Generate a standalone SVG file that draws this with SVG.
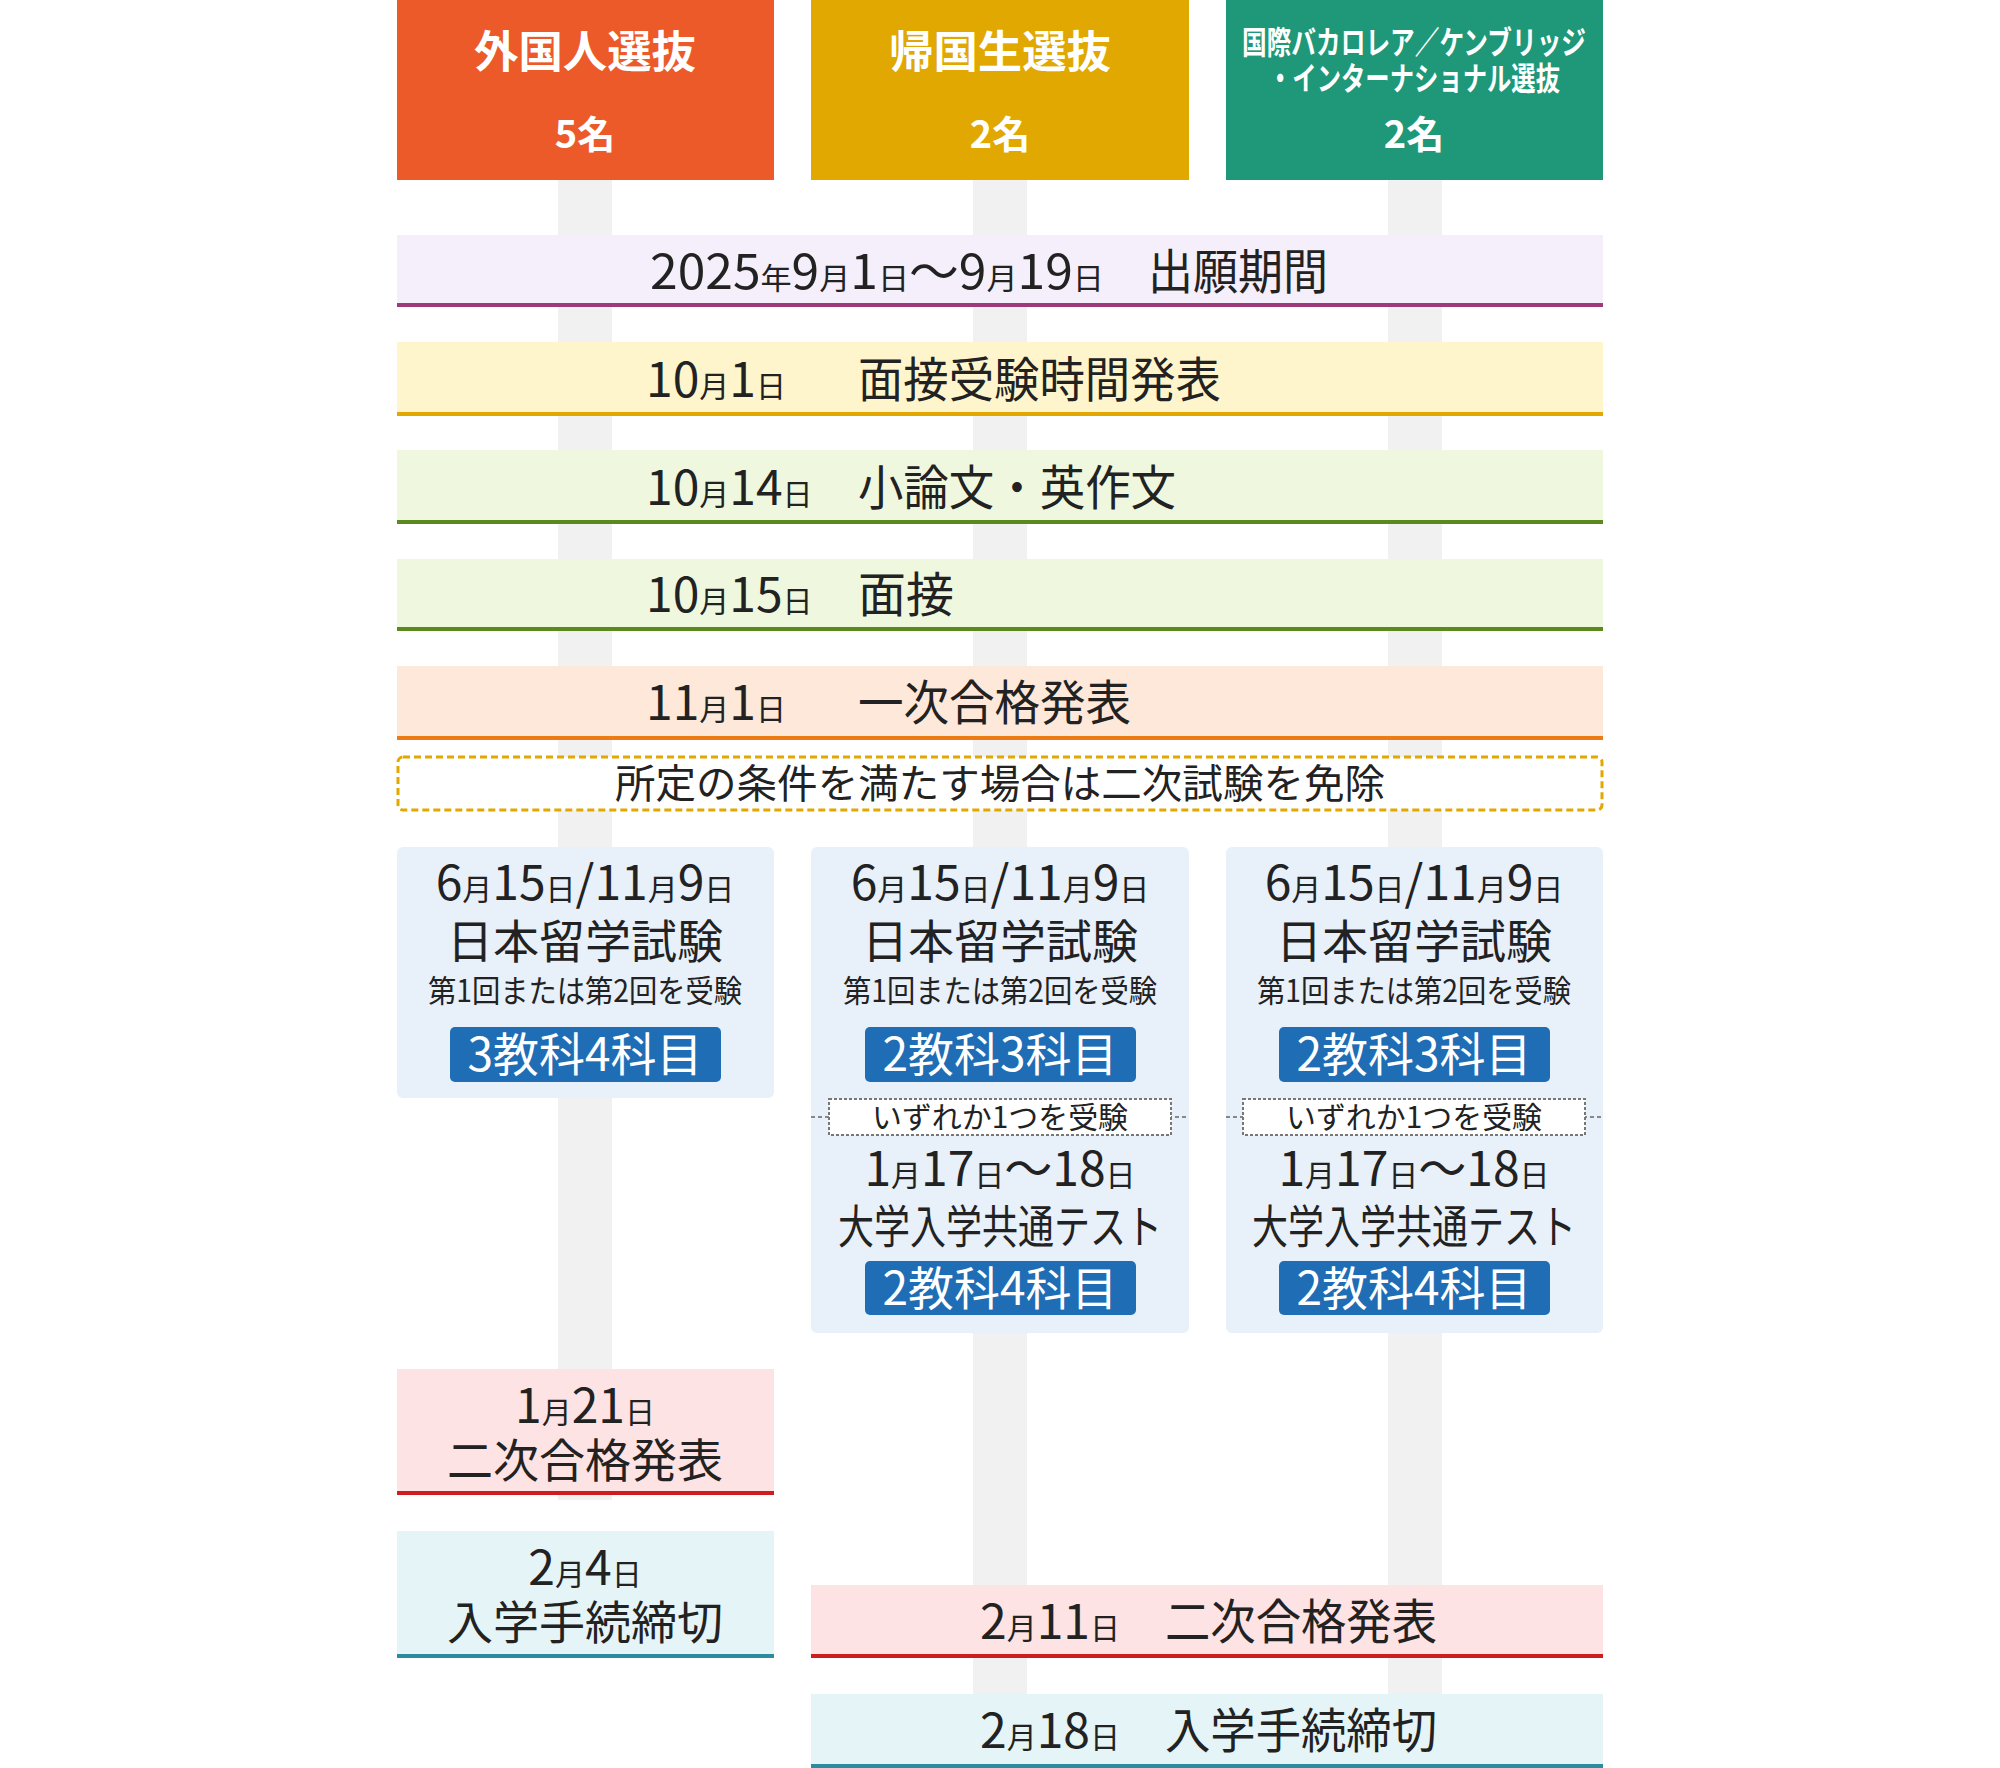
<svg xmlns="http://www.w3.org/2000/svg" width="2000" height="1768" viewBox="0 0 2000 1768">
<style>
text{font-family:"Noto Sans CJK JP","Noto Sans",sans-serif;fill:#222}
.h{fill:#fff;font-weight:700;text-anchor:middle}
.r{font-size:48px}
.s{font-size:30px}
.c{text-anchor:middle}
.b{fill:#fff;text-anchor:middle;font-size:46px}
.bar{fill:#f1f1f1}
.badge{fill:#1f6db5}
.card{fill:#e8f0fa}
</style>
<rect width="2000" height="1768" fill="#fff"/>
<g id="bars">
<rect class="bar" x="558" y="180" width="54" height="1320"/>
<rect class="bar" x="973" y="180" width="54" height="1588"/>
<rect class="bar" x="1388" y="180" width="54" height="1588"/>
</g>
<g id="h1"><rect x="397" y="0" width="377" height="180" fill="#ec5a2a"/>
<text class="h" x="585" y="68" font-size="44" textLength="222" lengthAdjust="spacingAndGlyphs">外国人選抜</text><text class="h" x="585" y="148" font-size="38">5名</text></g>
<g id="h2"><rect x="811" y="0" width="378" height="180" fill="#e0a800"/>
<text class="h" x="1000" y="68" font-size="44" textLength="222" lengthAdjust="spacingAndGlyphs">帰国生選抜</text><text class="h" x="1000" y="148" font-size="38">2名</text></g>
<g id="h3"><rect x="1226" y="0" width="377" height="180" fill="#1e9878"/>
<text class="h" x="1414" y="54" font-size="32" textLength="344" lengthAdjust="spacingAndGlyphs">国際バカロレア／ケンブリッジ</text>
<text class="h" x="1414" y="90" font-size="32" textLength="292" lengthAdjust="spacingAndGlyphs">・インターナショナル選抜</text>
<text class="h" x="1414" y="148" font-size="38">2名</text></g>
<g id="row1"><rect x="397" y="235" width="1206" height="72" fill="#f5eefb"/><rect x="397" y="303" width="1206" height="4" fill="#9c3a7a"/>
<text class="r" x="650" y="289" textLength="454" lengthAdjust="spacingAndGlyphs">2025<tspan class="s">年</tspan>9<tspan class="s">月</tspan>1<tspan class="s">日</tspan>〜9<tspan class="s">月</tspan>19<tspan class="s">日</tspan></text><text class="r" x="1148" y="289" textLength="180" lengthAdjust="spacingAndGlyphs">出願期間</text></g>
<g id="row2"><rect x="397" y="342" width="1206" height="74" fill="#fff5cc"/><rect x="397" y="412" width="1206" height="4" fill="#e2a800"/>
<text class="r" x="646" y="397">10<tspan class="s">月</tspan>1<tspan class="s">日</tspan></text><text class="r" x="858" y="397" textLength="363" lengthAdjust="spacingAndGlyphs">面接受験時間発表</text></g>
<g id="row3"><rect x="397" y="450" width="1206" height="74" fill="#eff8df"/><rect x="397" y="520" width="1206" height="4" fill="#5a8a1e"/>
<text class="r" x="646" y="505">10<tspan class="s">月</tspan>14<tspan class="s">日</tspan></text><text class="r" x="858" y="505" textLength="318" lengthAdjust="spacingAndGlyphs">小論文・英作文</text></g>
<g id="row4"><rect x="397" y="559" width="1206" height="72" fill="#eff8df"/><rect x="397" y="627" width="1206" height="4" fill="#5a8a1e"/>
<text class="r" x="646" y="612">10<tspan class="s">月</tspan>15<tspan class="s">日</tspan></text><text class="r" x="858" y="612">面接</text></g>
<g id="row5"><rect x="397" y="666" width="1206" height="74" fill="#fde8da"/><rect x="397" y="736" width="1206" height="4" fill="#ee7a14"/>
<text class="r" x="646" y="720">11<tspan class="s">月</tspan>1<tspan class="s">日</tspan></text><text class="r" x="858" y="720" textLength="273" lengthAdjust="spacingAndGlyphs">一次合格発表</text></g>
<g id="note"><rect x="398" y="757" width="1204" height="53" rx="5" fill="#fff" stroke="#e2a800" stroke-width="3" stroke-dasharray="7 4"/>
<text class="c" x="1000" y="798" font-size="40" fill="#333" textLength="770" lengthAdjust="spacingAndGlyphs">所定の条件を満たす場合は二次試験を免除</text></g>
<g id="card1"><rect class="card" x="397" y="847" width="377" height="251" rx="6"/>
<text class="c" x="585" y="900" font-size="48">6<tspan class="s">月</tspan>15<tspan class="s">日</tspan>/11<tspan class="s">月</tspan>9<tspan class="s">日</tspan></text>
<text class="c" x="585" y="958" font-size="46">日本留学試験</text>
<text class="c" x="585" y="1002" font-size="31" textLength="314" lengthAdjust="spacingAndGlyphs">第1回または第2回を受験</text>
<rect class="badge" x="450" y="1027" width="271" height="55" rx="5"/><text class="b" x="585" y="1071">3教科4科目</text></g>
<g id="card2"><rect class="card" x="811" y="847" width="378" height="486" rx="6"/>
<text class="c" x="1000" y="900" font-size="48">6<tspan class="s">月</tspan>15<tspan class="s">日</tspan>/11<tspan class="s">月</tspan>9<tspan class="s">日</tspan></text>
<text class="c" x="1000" y="958" font-size="46">日本留学試験</text>
<text class="c" x="1000" y="1002" font-size="31" textLength="314" lengthAdjust="spacingAndGlyphs">第1回または第2回を受験</text>
<rect class="badge" x="865" y="1027" width="271" height="55" rx="5"/><text class="b" x="1000" y="1071">2教科3科目</text>
<line x1="811" y1="1117" x2="1189" y2="1117" stroke="#888" stroke-width="2" stroke-dasharray="4 3"/>
<rect x="829" y="1099" width="342" height="36" fill="#fff" stroke="#777" stroke-width="2" stroke-dasharray="3 2"/>
<text class="c" x="1000" y="1128" font-size="30" fill="#333" textLength="256" lengthAdjust="spacingAndGlyphs">いずれか1つを受験</text>
<text class="c" x="1000" y="1186" font-size="48">1<tspan class="s">月</tspan>17<tspan class="s">日</tspan>〜18<tspan class="s">日</tspan></text>
<text class="c" x="1000" y="1243" font-size="46" textLength="324" lengthAdjust="spacingAndGlyphs">大学入学共通テスト</text>
<rect class="badge" x="865" y="1261" width="271" height="54" rx="5"/><text class="b" x="1000" y="1305">2教科4科目</text></g>
<g id="card3"><rect class="card" x="1226" y="847" width="377" height="486" rx="6"/>
<text class="c" x="1414" y="900" font-size="48">6<tspan class="s">月</tspan>15<tspan class="s">日</tspan>/11<tspan class="s">月</tspan>9<tspan class="s">日</tspan></text>
<text class="c" x="1414" y="958" font-size="46">日本留学試験</text>
<text class="c" x="1414" y="1002" font-size="31" textLength="314" lengthAdjust="spacingAndGlyphs">第1回または第2回を受験</text>
<rect class="badge" x="1279" y="1027" width="271" height="55" rx="5"/><text class="b" x="1414" y="1071">2教科3科目</text>
<line x1="1226" y1="1117" x2="1603" y2="1117" stroke="#888" stroke-width="2" stroke-dasharray="4 3"/>
<rect x="1243" y="1099" width="342" height="36" fill="#fff" stroke="#777" stroke-width="2" stroke-dasharray="3 2"/>
<text class="c" x="1414" y="1128" font-size="30" fill="#333" textLength="256" lengthAdjust="spacingAndGlyphs">いずれか1つを受験</text>
<text class="c" x="1414" y="1186" font-size="48">1<tspan class="s">月</tspan>17<tspan class="s">日</tspan>〜18<tspan class="s">日</tspan></text>
<text class="c" x="1414" y="1243" font-size="46" textLength="324" lengthAdjust="spacingAndGlyphs">大学入学共通テスト</text>
<rect class="badge" x="1279" y="1261" width="271" height="54" rx="5"/><text class="b" x="1414" y="1305">2教科4科目</text></g>
<g id="r121"><rect x="397" y="1369" width="377" height="126" fill="#fde3e3"/><rect x="397" y="1491" width="377" height="4" fill="#cc1e1e"/>
<text class="c" x="585" y="1423" font-size="48">1<tspan class="s">月</tspan>21<tspan class="s">日</tspan></text>
<text class="c" x="585" y="1477" font-size="46">二次合格発表</text></g>
<g id="r24"><rect x="397" y="1531" width="377" height="127" fill="#e5f4f7"/><rect x="397" y="1654" width="377" height="4" fill="#2b8ca0"/>
<text class="c" x="585" y="1585" font-size="48">2<tspan class="s">月</tspan>4<tspan class="s">日</tspan></text>
<text class="c" x="585" y="1639" font-size="46">入学手続締切</text></g>
<g id="r211"><rect x="811" y="1585" width="792" height="73" fill="#fde3e3"/><rect x="811" y="1654" width="792" height="4" fill="#cc1e1e"/>
<text class="r" x="980" y="1639">2<tspan class="s">月</tspan>11<tspan class="s">日</tspan></text><text class="r" x="1165" y="1639" textLength="272" lengthAdjust="spacingAndGlyphs">二次合格発表</text></g>
<g id="r218"><rect x="811" y="1694" width="792" height="74" fill="#e5f4f7"/><rect x="811" y="1764" width="792" height="4" fill="#2b8ca0"/>
<text class="r" x="980" y="1748">2<tspan class="s">月</tspan>18<tspan class="s">日</tspan></text><text class="r" x="1165" y="1748" textLength="272" lengthAdjust="spacingAndGlyphs">入学手続締切</text></g>
<g id="connectors"></g>
</svg>
